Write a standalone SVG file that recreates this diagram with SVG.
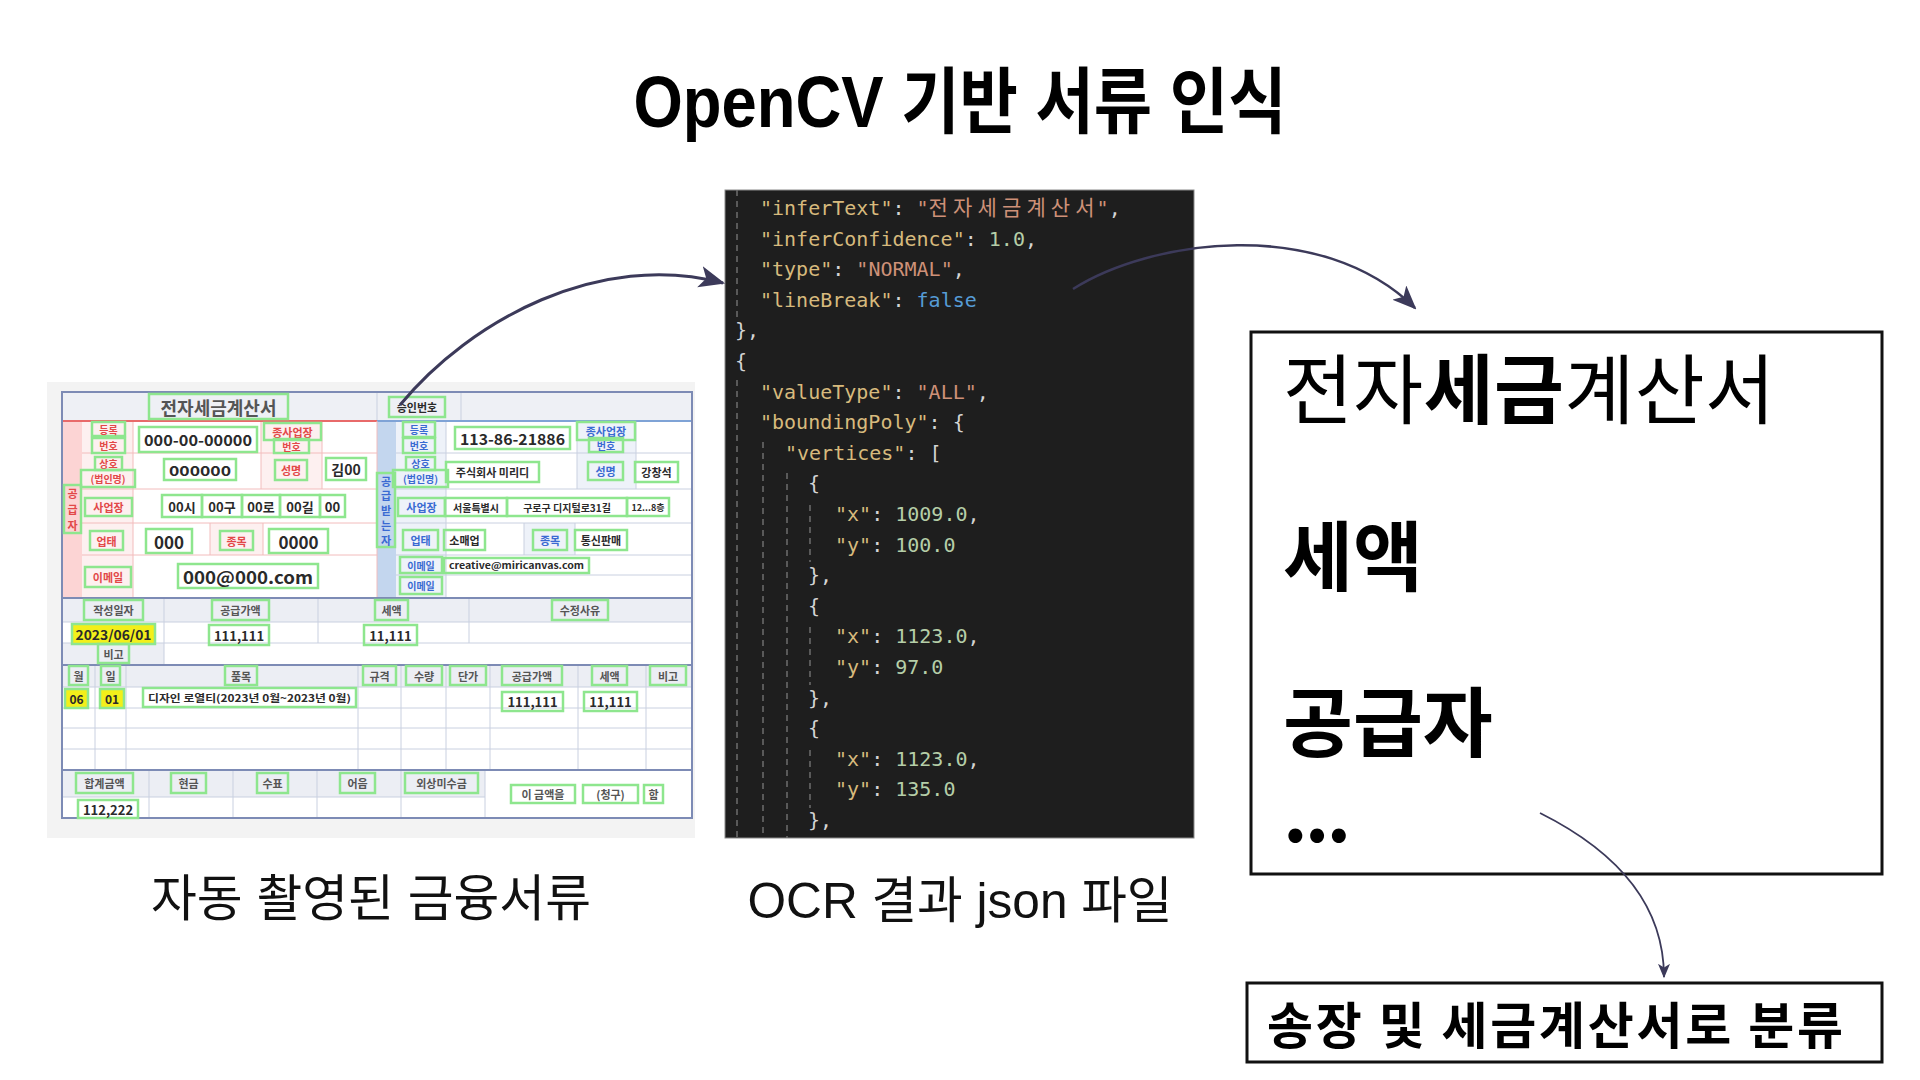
<svg xmlns="http://www.w3.org/2000/svg" width="1920" height="1080" viewBox="0 0 1920 1080">
<defs>
<style>
.ttl{font-family:"Liberation Sans","Noto Sans CJK KR",sans-serif;font-weight:700;fill:#000}
.cap{font-family:"Liberation Sans","Noto Sans CJK KR",sans-serif;font-weight:400;fill:#111}
.g{fill:none;stroke:#8ee68e;stroke-width:2.5}
.gy{fill:#f3ef1a;stroke:#8ee68e;stroke-width:2.5}
.doc text{font-family:"Noto Sans CJK KR",sans-serif;text-anchor:middle;dominant-baseline:central;font-weight:700}
.doc text.cap{dominant-baseline:auto;font-family:"Liberation Sans","Noto Sans CJK KR",sans-serif;font-weight:400}
.r{fill:#e24848}
.b{fill:#3a6ad2}
.d{fill:#2a2a2a;font-weight:500}
.h{fill:#555}
.ln{stroke:#c9d0e0;stroke-width:1;fill:none}
.lr{stroke:#f2bcbc;stroke-width:1;fill:none}
.sec{stroke:#7d8bb5;stroke-width:2;fill:none}
.code{font-family:"DejaVu Sans Mono","Noto Sans CJK KR",monospace;font-size:20px;fill:#d4d4d4}
.k{fill:#d7ba7d}
.s{fill:#ce9178}
.n{fill:#b5cea8}
.bl{fill:#569cd6}
.guide{stroke:#6e6e6e;stroke-width:1.5;stroke-dasharray:6 5}
.box{fill:#fff;stroke:#111;stroke-width:3}
.big{font-family:"Noto Sans CJK KR",sans-serif;font-size:76px;fill:#000}
.conn{fill:none;stroke:#3c3a5a}
</style>
<marker id="ah1" viewBox="0 0 12 10" refX="11" refY="5" markerWidth="26" markerHeight="22" markerUnits="userSpaceOnUse" orient="auto"><path d="M0,0 L12,5 L0,10 L3,5 z" fill="#3c3a5a"/></marker>
<marker id="ah2" viewBox="0 0 12 10" refX="11" refY="5" markerWidth="24" markerHeight="20" markerUnits="userSpaceOnUse" orient="auto"><path d="M0,0 L12,5 L0,10 L3,5 z" fill="#3c3a5a"/></marker>
<marker id="ah3" viewBox="0 0 12 10" refX="11" refY="5" markerWidth="15" markerHeight="12" markerUnits="userSpaceOnUse" orient="auto"><path d="M0,0 L12,5 L0,10 L3,5 z" fill="#3c3a5a"/></marker>
<clipPath id="codeclip"><rect x="725" y="190" width="469" height="648"/></clipPath>
</defs>

<rect width="1920" height="1080" fill="#fff"/>

<g id="title">
<text class="ttl" x="960" y="127" font-size="72" text-anchor="middle" textLength="653" lengthAdjust="spacingAndGlyphs">OpenCV 기반 서류 인식</text>
</g>

<!-- Left: scanned tax invoice -->
<g id="node-document" class="doc">
<rect x="47" y="382" width="648" height="456" fill="#f3f3f3"/>
<rect x="62" y="392" width="630" height="426" fill="#fff"/>
<rect x="62" y="392" width="630" height="29" fill="#eef0f5"/>
<line class="ln" x1="377" y1="392" x2="377" y2="421"/>
<line class="ln" x1="461" y1="392" x2="461" y2="421"/>
<rect x="62" y="421" width="20" height="177" fill="#fcd4d4"/>
<rect x="82" y="421" width="51" height="177" fill="#fdf0f0"/>
<rect x="261" y="421" width="61" height="68" fill="#fdf0f0"/>
<rect x="210" y="523" width="53" height="32" fill="#fdf0f0"/>
<path class="lr" d="M82 453H377M82 489H377M82 523H377M82 555H377M133 421V598M261 421V489M322 421V489M210 523V555M263 523V555"/>
<line x1="62" y1="421" x2="377" y2="421" stroke="#e86a6a" stroke-width="2"/>
<rect x="377" y="421" width="19" height="177" fill="#c3d6ee"/>
<rect x="396" y="421" width="50" height="177" fill="#eef2f9"/>
<rect x="577" y="421" width="59" height="68" fill="#eef2f9"/>
<rect x="524" y="523" width="51" height="32" fill="#eef2f9"/>
<path class="ln" d="M396 453H692M396 489H692M396 523H692M396 555H692M396 575H692M446 421V598M577 421V489M636 421V489M524 523V555M575 523V555"/>
<line x1="377" y1="421" x2="692" y2="421" stroke="#7fa3d6" stroke-width="2"/>
<line class="lr" x1="377" y1="421" x2="377" y2="598"/>
<rect x="62" y="598" width="630" height="24" fill="#eceef4"/>
<rect x="62" y="643" width="102" height="22" fill="#eceef4"/>
<path class="ln" d="M62 622H692M62 643H692M164 598V665M318 598V643M469 598V643"/>
<rect x="62" y="665" width="630" height="22" fill="#eceef4"/>
<path class="ln" d="M62 687H692M62 708H692M62 728H692M62 749H692M95 665V770M126 665V770M358 665V770M401 665V770M446 665V770M490 665V770M578 665V770M646 665V770"/>
<rect x="62" y="770" width="423" height="27" fill="#eceef4"/>
<path class="ln" d="M62 797H485M149 770V818M233 770V818M317 770V818M401 770V818M485 770V818"/>
<path class="sec" d="M62 598H692M62 665H692M62 770H692"/>
<rect class="sec" x="62" y="392" width="630" height="426"/>

<rect class="g" x="149" y="394" width="139" height="25"/><text class="h" x="218.5" y="406.5" font-size="18" font-weight="500">전자세금계산서</text>
<rect class="g" x="389" y="397" width="56" height="20"/><text class="d" x="417" y="407" font-size="11">승인번호</text>
<rect class="g" x="64" y="485" width="17" height="48"/>
<text class="r" x="72.5" y="493" font-size="11">공</text><text class="r" x="72.5" y="509" font-size="11">급</text><text class="r" x="72.5" y="525" font-size="11">자</text>
<rect class="g" x="92" y="422" width="33" height="14"/><text class="r" x="108.5" y="429" font-size="10">등록</text>
<rect class="g" x="92" y="438" width="33" height="15"/><text class="r" x="108.5" y="445.5" font-size="10">번호</text>
<rect class="g" x="139" y="427" width="118" height="25"/><text class="d" x="198" y="439.5" font-size="15" textLength="108" lengthAdjust="spacingAndGlyphs">000-00-00000</text>
<rect class="g" x="264" y="423" width="57" height="17"/><text class="r" x="292.5" y="431.5" font-size="11">종사업장</text>
<rect class="g" x="274" y="439" width="35" height="14"/><text class="r" x="291.5" y="446" font-size="10">번호</text>
<rect class="g" x="95" y="457" width="27" height="13"/><text class="r" x="108.5" y="463.5" font-size="10">상호</text>
<rect class="g" x="81" y="470" width="54" height="17"/><text class="r" x="108" y="478.5" font-size="10">(법인명)</text>
<rect class="g" x="164" y="459" width="72" height="21"/><text class="d" x="200" y="469.5" font-size="14" textLength="62" lengthAdjust="spacingAndGlyphs">000000</text>
<rect class="g" x="275" y="460" width="32" height="20"/><text class="r" x="291" y="470" font-size="11">성명</text>
<rect class="g" x="326" y="458" width="40" height="22"/><text class="d" x="346" y="469" font-size="14">김00</text>
<rect class="g" x="85" y="498" width="47" height="18"/><text class="r" x="108.5" y="507" font-size="11">사업장</text>
<rect class="g" x="162" y="495" width="40" height="22"/><text class="d" x="182" y="506" font-size="13">00시</text>
<rect class="g" x="202" y="495" width="40" height="22"/><text class="d" x="222" y="506" font-size="13">00구</text>
<rect class="g" x="242" y="495" width="38" height="22"/><text class="d" x="261" y="506" font-size="13">00로</text>
<rect class="g" x="280" y="495" width="40" height="22"/><text class="d" x="300" y="506" font-size="13">00길</text>
<rect class="g" x="320" y="495" width="25" height="22"/><text class="d" x="332.5" y="506" font-size="13">00</text>
<rect class="g" x="90" y="531" width="33" height="19"/><text class="r" x="106.5" y="540.5" font-size="11">업태</text>
<rect class="g" x="146" y="529" width="46" height="24"/><text class="d" x="169" y="541" font-size="17">000</text>
<rect class="g" x="220" y="531" width="33" height="19"/><text class="r" x="236.5" y="540.5" font-size="11">종목</text>
<rect class="g" x="269" y="529" width="59" height="24"/><text class="d" x="298.5" y="541" font-size="17">0000</text>
<rect class="g" x="85" y="567" width="46" height="20"/><text class="r" x="108" y="577" font-size="11">이메일</text>
<rect class="g" x="178" y="564" width="140" height="24"/><text class="d" x="248" y="576" font-size="17" textLength="130" lengthAdjust="spacingAndGlyphs">000@000.com</text>
<rect class="g" x="377" y="473" width="18" height="74"/>
<text class="b" x="386" y="480.5" font-size="11">공</text><text class="b" x="386" y="495.3" font-size="11">급</text><text class="b" x="386" y="510" font-size="11">받</text><text class="b" x="386" y="524.8" font-size="11">는</text><text class="b" x="386" y="539.5" font-size="11">자</text>
<rect class="g" x="403" y="422" width="32" height="15"/><text class="b" x="419" y="429.5" font-size="10">등록</text>
<rect class="g" x="403" y="438" width="32" height="15"/><text class="b" x="419" y="445.5" font-size="10">번호</text>
<rect class="g" x="455" y="427" width="115" height="22"/><text class="d" x="512.5" y="438" font-size="15" textLength="105" lengthAdjust="spacingAndGlyphs">113-86-21886</text>
<rect class="g" x="577" y="422" width="58" height="18"/><text class="b" x="606" y="431" font-size="11">종사업장</text>
<rect class="g" x="589" y="438" width="34" height="14"/><text class="b" x="606" y="445" font-size="10">번호</text>
<rect class="g" x="406" y="457" width="29" height="13"/><text class="b" x="420.5" y="463.5" font-size="10">상호</text>
<rect class="g" x="393" y="470" width="55" height="17"/><text class="b" x="420.5" y="478.5" font-size="10">(법인명)</text>
<rect class="g" x="446" y="462" width="93" height="20"/><text class="d" x="492.5" y="472" font-size="11">주식회사 미리디</text>
<rect class="g" x="588" y="462" width="35" height="18"/><text class="b" x="605.5" y="471" font-size="11">성명</text>
<rect class="g" x="635" y="462" width="43" height="20"/><text class="d" x="656.5" y="472" font-size="11">강창석</text>
<rect class="g" x="398" y="498" width="47" height="18"/><text class="b" x="421.5" y="507" font-size="11">사업장</text>
<rect class="g" x="445" y="498" width="62" height="18"/><text class="d" x="476" y="507" font-size="10">서울특별시</text>
<rect class="g" x="507" y="498" width="120" height="18"/><text class="d" x="567" y="507" font-size="10">구로구 디지털로31길</text>
<rect class="g" x="627" y="498" width="42" height="18"/><text class="d" x="648" y="507" font-size="9">12...8층</text>
<rect class="g" x="403" y="530" width="35" height="20"/><text class="b" x="420.5" y="540" font-size="11">업태</text>
<rect class="g" x="444" y="530" width="41" height="20"/><text class="d" x="464.5" y="540" font-size="11">소매업</text>
<rect class="g" x="533" y="530" width="34" height="20"/><text class="b" x="550" y="540" font-size="11">종목</text>
<rect class="g" x="575" y="530" width="52" height="20"/><text class="d" x="601" y="540" font-size="11">통신판매</text>
<rect class="g" x="400" y="557" width="42" height="16"/><text class="b" x="421" y="565" font-size="10">이메일</text>
<rect class="g" x="444" y="558" width="145" height="15"/><text class="d" x="516.5" y="565.5" font-size="9" textLength="135" lengthAdjust="spacingAndGlyphs">creative@miricanvas.com</text>
<rect class="g" x="400" y="577" width="42" height="17"/><text class="b" x="421" y="585.5" font-size="10">이메일</text>
<rect class="g" x="84" y="600" width="59" height="20"/><text class="h" x="113.5" y="610" font-size="11">작성일자</text>
<rect class="g" x="212" y="600" width="57" height="20"/><text class="h" x="240.5" y="610" font-size="11">공급가액</text>
<rect class="g" x="375" y="600" width="33" height="20"/><text class="h" x="391.5" y="610" font-size="11">세액</text>
<rect class="g" x="552" y="600" width="56" height="20"/><text class="h" x="580" y="610" font-size="11">수정사유</text>
<rect class="gy" x="72" y="624" width="83" height="20"/><text class="d" x="113.5" y="634" font-size="13" textLength="76" lengthAdjust="spacingAndGlyphs">2023/06/01</text>
<rect class="g" x="209" y="625" width="60" height="20"/><text class="d" x="239" y="635" font-size="13">111,111</text>
<rect class="g" x="364" y="625" width="53" height="20"/><text class="d" x="390.5" y="635" font-size="13">11,111</text>
<rect class="g" x="98" y="644" width="31" height="19"/><text class="h" x="113.5" y="653.5" font-size="11">비고</text>
<rect class="g" x="69" y="666" width="19" height="19"/><text class="h" x="78.5" y="675.5" font-size="11">월</text>
<rect class="g" x="101" y="666" width="19" height="19"/><text class="h" x="110.5" y="675.5" font-size="11">일</text>
<rect class="g" x="225" y="666" width="32" height="19"/><text class="h" x="241" y="675.5" font-size="11">품목</text>
<rect class="g" x="363" y="666" width="33" height="19"/><text class="h" x="379.5" y="675.5" font-size="11">규격</text>
<rect class="g" x="406" y="666" width="36" height="19"/><text class="h" x="424" y="675.5" font-size="11">수량</text>
<rect class="g" x="450" y="666" width="36" height="19"/><text class="h" x="468" y="675.5" font-size="11">단가</text>
<rect class="g" x="502" y="666" width="60" height="19"/><text class="h" x="532" y="675.5" font-size="11">공급가액</text>
<rect class="g" x="592" y="666" width="35" height="19"/><text class="h" x="609.5" y="675.5" font-size="11">세액</text>
<rect class="g" x="650" y="666" width="36" height="19"/><text class="h" x="668" y="675.5" font-size="11">비고</text>
<rect class="gy" x="65" y="689" width="23" height="19"/><text class="d" x="76.5" y="698.5" font-size="12">06</text>
<rect class="gy" x="100" y="689" width="24" height="19"/><text class="d" x="112" y="698.5" font-size="12">01</text>
<rect class="g" x="143" y="688" width="213" height="19"/><text class="d" x="249.5" y="697.5" font-size="10" textLength="203" lengthAdjust="spacingAndGlyphs">디자인 로열티(2023년 0월~2023년 0월)</text>
<rect class="g" x="502" y="692" width="61" height="19"/><text class="d" x="532.5" y="701.5" font-size="13">111,111</text>
<rect class="g" x="584" y="692" width="53" height="19"/><text class="d" x="610.5" y="701.5" font-size="13">11,111</text>
<rect class="g" x="76" y="773" width="57" height="20"/><text class="h" x="104.5" y="783" font-size="11">합계금액</text>
<rect class="g" x="171" y="773" width="35" height="20"/><text class="h" x="188.5" y="783" font-size="11">현금</text>
<rect class="g" x="257" y="773" width="31" height="20"/><text class="h" x="272.5" y="783" font-size="11">수표</text>
<rect class="g" x="340" y="773" width="35" height="20"/><text class="h" x="357.5" y="783" font-size="11">어음</text>
<rect class="g" x="405" y="773" width="73" height="20"/><text class="h" x="441.5" y="783" font-size="11">외상미수금</text>
<rect class="g" x="511" y="785" width="64" height="18"/><text class="h" x="543" y="794" font-size="11">이 금액을</text>
<rect class="g" x="583" y="785" width="55" height="18"/><text class="h" x="610.5" y="794" font-size="11">(청구)</text>
<rect class="g" x="644" y="785" width="19" height="18"/><text class="h" x="653.5" y="794" font-size="11">함</text>
<rect class="g" x="78" y="800" width="60" height="18"/><text class="d" x="108" y="809" font-size="13">112,222</text>

<text class="cap" x="371" y="916" font-size="50" text-anchor="middle" textLength="440" lengthAdjust="spacingAndGlyphs">자동 촬영된 금융서류</text>
</g>

<!-- Middle: OCR json -->
<g id="node-json">
<rect x="725" y="190" width="469" height="648" fill="#1e1e1e" stroke="#8a8a8a" stroke-width="1"/>
<g clip-path="url(#codeclip)">
<path class="guide" d="M737 190V322M737 380V838M763 442V838M787 473V838M810 505V562M810 627V685M810 750V808"/>
<g class="code">
<text x="760" y="215"><tspan class="k">"inferText"</tspan>: <tspan class="s">"</tspan></text>
<text class="s" x="928.6" y="215" font-size="21" textLength="166" lengthAdjust="spacing" style="font-family:'Noto Sans CJK KR',sans-serif">전자세금계산서</text>
<text x="1096.6" y="215"><tspan class="s">"</tspan>,</text>
<text x="760" y="245.6"><tspan class="k">"inferConfidence"</tspan>: <tspan class="n">1.0</tspan>,</text>
<text x="760" y="276.2"><tspan class="k">"type"</tspan>: <tspan class="s">"NORMAL"</tspan>,</text>
<text x="760" y="306.8"><tspan class="k">"lineBreak"</tspan>: <tspan class="bl">false</tspan></text>
<text x="735" y="337.4">},</text>
<text x="735" y="368">{</text>
<text x="760" y="398.6"><tspan class="k">"valueType"</tspan>: <tspan class="s">"ALL"</tspan>,</text>
<text x="760" y="429.2"><tspan class="k">"boundingPoly"</tspan>: {</text>
<text x="785" y="459.8"><tspan class="k">"vertices"</tspan>: [</text>
<text x="808" y="490.4">{</text>
<text x="835" y="521"><tspan class="k">"x"</tspan>: <tspan class="n">1009.0</tspan>,</text>
<text x="835" y="551.6"><tspan class="k">"y"</tspan>: <tspan class="n">100.0</tspan></text>
<text x="808" y="582.2">},</text>
<text x="808" y="612.8">{</text>
<text x="835" y="643.4"><tspan class="k">"x"</tspan>: <tspan class="n">1123.0</tspan>,</text>
<text x="835" y="674"><tspan class="k">"y"</tspan>: <tspan class="n">97.0</tspan></text>
<text x="808" y="704.6">},</text>
<text x="808" y="735.2">{</text>
<text x="835" y="765.8"><tspan class="k">"x"</tspan>: <tspan class="n">1123.0</tspan>,</text>
<text x="835" y="796.4"><tspan class="k">"y"</tspan>: <tspan class="n">135.0</tspan></text>
<text x="808" y="827">},</text>
</g>
</g>
<text class="cap" x="960" y="918" font-size="50" text-anchor="middle" textLength="425" lengthAdjust="spacingAndGlyphs">OCR 결과 json 파일</text>
</g>

<!-- Right: recognized text -->
<g id="node-result">
<rect class="box" x="1251" y="332" width="631" height="542"/>
<text class="big" x="1283" y="418" textLength="492" lengthAdjust="spacing"><tspan font-weight="400">전자</tspan><tspan font-weight="700">세금</tspan><tspan font-weight="400">계산서</tspan></text>
<text class="big" x="1283" y="585" font-weight="700">세액</text>
<text class="big" x="1283" y="751" font-weight="700">공급자</text>
<text class="big" x="1283" y="842" font-size="56" font-weight="700" letter-spacing="-3">...</text>
</g>

<!-- Bottom: classification -->
<g id="node-classify">
<rect class="box" x="1247" y="983" width="635" height="79"/>
<text x="1267" y="1044" font-size="50" font-weight="700" textLength="576" lengthAdjust="spacing" style="font-family:'Noto Sans CJK KR',sans-serif">송장 및 세금계산서로 분류</text>
</g>

<g id="connectors">
<path class="conn" stroke-width="3" d="M400 405 C470 320 600 250 723 283" marker-end="url(#ah1)"/>
<path class="conn" stroke-width="2.5" d="M1073 289 C1150 240 1320 215 1415 308" marker-end="url(#ah2)"/>
<path class="conn" stroke-width="1.8" d="M1540 813 C1610 848 1664 900 1664 977" marker-end="url(#ah3)"/>
</g>
</svg>
